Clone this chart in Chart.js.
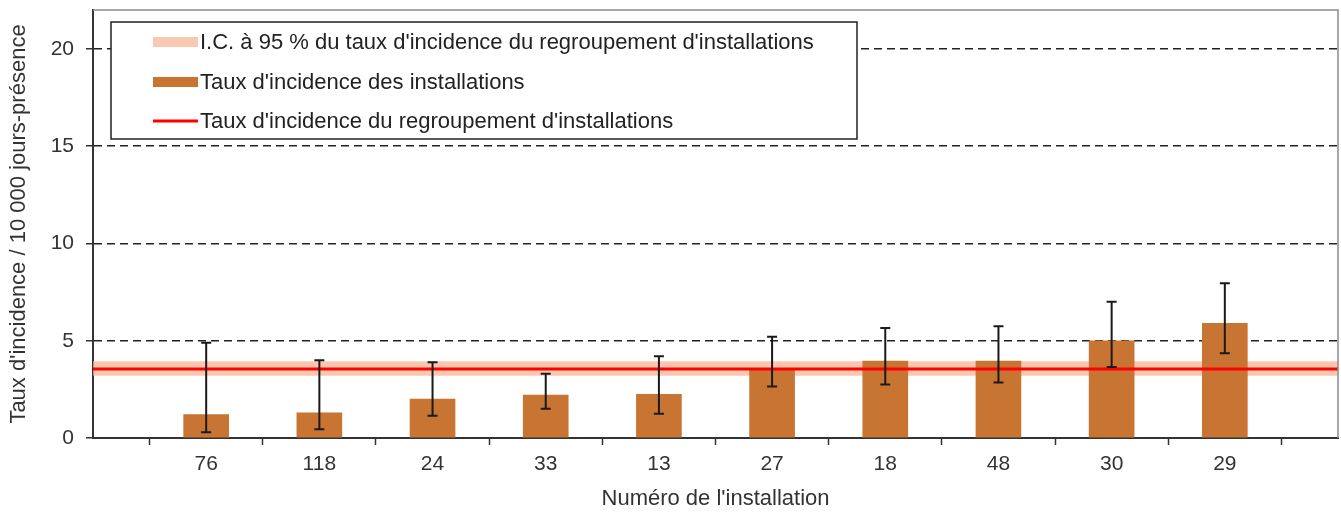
<!DOCTYPE html>
<html>
<head>
<meta charset="utf-8">
<script src="https://cdn.jsdelivr.net/npm/chart.js@4/dist/chart.umd.min.js"></script>
<style>
  html, body { margin: 0; padding: 0; background: #fff; }
  #wrap { width: 1341px; height: 513px; }
</style>
</head>
<body>
<div id="wrap"><canvas id="myChart"></canvas></div>
<script>
// blank labels at both ends leave the empty space left and right of the bars
const installations = ["", "76", "118", "24", "33", "13", "27", "18", "48", "30", "29", ""];
const tauxInstallations = [null, 1.2, 1.3, 2.0, 2.2, 2.25, 3.55, 3.95, 3.95, 5.0, 5.9, null];
const icBas = [null, 0.3, 0.45, 1.15, 1.5, 1.25, 2.65, 2.75, 2.85, 3.65, 4.35, null];
const icHaut = [null, 4.9, 4.0, 3.9, 3.3, 4.2, 5.2, 5.65, 5.75, 7.0, 7.95, null];
const tauxRegroupement = 3.55;
const icRegroupementBas = 3.2;
const icRegroupementHaut = 3.95;
const yTicks = [0, 5, 10, 15, 20];

const font = "'Liberation Sans', Arial, sans-serif";
const textColor = "#333";

const errorBars = {
  id: "errorBars",
  afterDatasetsDraw(chart) {
    const ctx = chart.ctx;
    const x = chart.scales.x;
    const y = chart.scales.y;
    ctx.save();
    ctx.strokeStyle = "#1a1a1a";
    ctx.lineWidth = 2;
    for (let i = 0; i < installations.length; i++) {
      if (icBas[i] == null) continue;
      const px = x.getPixelForValue(i);
      const y1 = y.getPixelForValue(icBas[i]);
      const y2 = y.getPixelForValue(icHaut[i]);
      ctx.beginPath();
      ctx.moveTo(px, y1); ctx.lineTo(px, y2);
      ctx.moveTo(px - 5, y1); ctx.lineTo(px + 5, y1);
      ctx.moveTo(px - 5, y2); ctx.lineTo(px + 5, y2);
      ctx.stroke();
    }
    ctx.restore();
  }
};

const frame = {
  id: "frame",
  afterDraw(chart) {
    const ctx = chart.ctx;
    const a = chart.chartArea;
    ctx.save();
    ctx.strokeStyle = "#8c8c8c";
    ctx.lineWidth = 1.5;
    ctx.beginPath();
    ctx.moveTo(a.left, a.top); ctx.lineTo(a.right, a.top); ctx.lineTo(a.right, a.bottom);
    ctx.stroke();
    ctx.restore();
  }
};

const boxLegend = {
  id: "boxLegend",
  afterDraw(chart) {
    const ctx = chart.ctx;
    const ds = chart.data.datasets;
    const entries = [
      { label: ds[1].label, color: ds[1].backgroundColor, h: 10 },
      { label: ds[3].label, color: ds[3].backgroundColor, h: 10 },
      { label: ds[2].label, color: ds[2].borderColor, h: 3 }
    ];
    const rows = [42, 82, 121];
    const left = 111, top = 22, w = 746, h = 117;
    ctx.save();
    ctx.fillStyle = "#fff";
    ctx.fillRect(left, top, w, h);
    ctx.strokeStyle = "#222";
    ctx.lineWidth = 1.5;
    ctx.strokeRect(left, top, w, h);
    ctx.font = "22px " + font;
    ctx.textBaseline = "middle";
    entries.forEach((e, i) => {
      const cy = rows[i];
      ctx.fillStyle = e.color;
      ctx.fillRect(153, cy - e.h / 2, 45, e.h);
      ctx.fillStyle = "#222";
      ctx.fillText(e.label, 200, cy + 1);
    });
    ctx.restore();
  }
};

const flat = v => installations.map(() => v);

new Chart(document.getElementById("myChart"), {
  type: "bar",
  data: {
    labels: installations,
    datasets: [
      {
        type: "line",
        label: "ic-bas",
        data: flat(icRegroupementBas),
        borderWidth: 0,
        pointRadius: 0,
        fill: false,
        order: 4
      },
      {
        type: "line",
        label: "I.C. à 95 % du taux d'incidence du regroupement d'installations",
        data: flat(icRegroupementHaut),
        borderWidth: 0,
        pointRadius: 0,
        backgroundColor: "rgba(248, 182, 150, 0.75)",
        fill: "-1",
        order: 3
      },
      {
        type: "line",
        label: "Taux d'incidence du regroupement d'installations",
        data: flat(tauxRegroupement),
        borderColor: "#ff0000",
        borderWidth: 3,
        pointRadius: 0,
        fill: false,
        order: 1
      },
      {
        label: "Taux d'incidence des installations",
        data: tauxInstallations,
        backgroundColor: "#c87533",
        barThickness: 45,
        order: 2
      }
    ]
  },
  plugins: [frame, errorBars, boxLegend],
  options: {
    responsive: true,
    maintainAspectRatio: false,
    animation: false,
    layout: { padding: { top: 10, right: 3, left: 0, bottom: 0 } },
    plugins: {
      legend: { display: false },
      tooltip: { enabled: false }
    },
    scales: {
      x: {
        offset: false,
        grid: { drawOnChartArea: false, drawTicks: true, tickLength: 7, tickColor: "#333", tickWidth: 1.5 },
        border: { color: "#333", width: 2 },
        ticks: { color: textColor, font: { family: font, size: 21 }, padding: 7, autoSkip: false, maxRotation: 0 },
        title: { display: true, text: "Numéro de l'installation", color: textColor, font: { family: font, size: 22 }, padding: { top: 0, bottom: 1 } },
        afterFit(scale) {
          scale.height = 75;
          scale.paddingLeft = 0;
          scale.paddingRight = 0;
        }
      },
      y: {
        min: 0,
        max: 22,
        afterBuildTicks(scale) { scale.ticks = yTicks.map(v => ({ value: v })); },
        grid: {
          color: c => (c.tick && c.tick.value === 0 ? "rgba(0,0,0,0)" : "#222"),
          lineWidth: 1.5,
          tickLength: 7,
          tickColor: "#333",
          tickWidth: 1.5
        },
        border: { color: "#333", width: 2, dash: [8, 5] },
        ticks: { color: textColor, font: { family: font, size: 21 }, padding: 12 },
        title: { display: true, text: "Taux d'incidence / 10 000 jours-présence", color: textColor, font: { family: font, size: 22 }, padding: { top: 6, bottom: 0 } },
        afterFit(scale) {
          scale.width = 93;
          scale.paddingTop = 0;
          scale.paddingBottom = 0;
        }
      }
    }
  }
});
</script>
</body>
</html>
